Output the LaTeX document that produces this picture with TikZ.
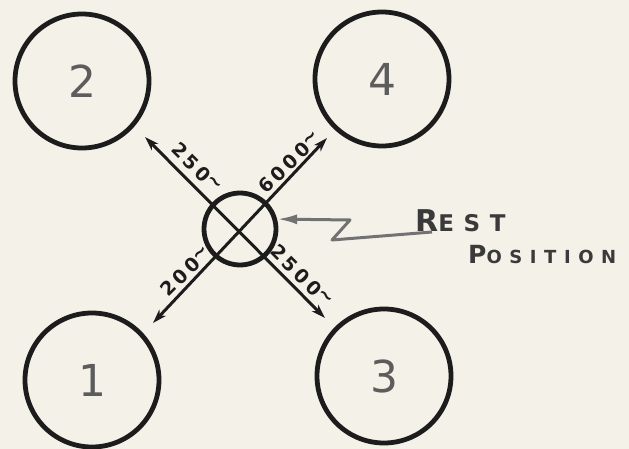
\documentclass[tikz,border=0pt]{standalone}
\usepackage{fontspec}
\setmainfont{DejaVu Sans}
\newfontfamily\notefont[LetterSpace=42]{DejaVu Sans}
\newfontfamily\freqfont[LetterSpace=18]{DejaVu Sans}
\usetikzlibrary{arrows.meta}
\definecolor{paper}{HTML}{F4F1E8}
\definecolor{ink}{HTML}{1C1C1C}
\definecolor{digit}{HTML}{5C5C5C}
\definecolor{pencil}{HTML}{727272}
\definecolor{notecol}{HTML}{3A3A3A}
\begin{document}
\begin{tikzpicture}[x=1pt,y=-1pt,
  stationnode/.style={circle,draw=ink,line width=4.8pt,minimum size=134pt,inner sep=0pt,
    text=digit,font=\fontsize{44}{44}\selectfont},
  hubnode/.style={circle,draw=ink,line width=4.8pt,minimum size=72pt,inner sep=0pt},
  armline/.style={draw=ink,line width=3pt,
    {Stealth[length=14pt,width=9pt,inset=4pt]}-{Stealth[length=14pt,width=9pt,inset=4pt]}},
  freqtext/.style={font=\freqfont\bfseries\fontsize{19}{19}\selectfont,text=ink,inner sep=0pt},
  restline/.style={draw=pencil,line width=3pt,line join=round,
    -{Latex[length=20pt,width=10pt]}},
  noteword/.style={text=notecol,inner sep=0pt,anchor=base west,font=\notefont\bfseries}]
\fill[paper] (0,0) rectangle (629,449);
\useasboundingbox (0,0) rectangle (629,449);

% stations
\node[stationnode] (s2) at (82,81) {2};
\node[stationnode] (s4) at (382,79) {4};
\node[stationnode] (s1) at (92,380) {1};
\node[stationnode] (s3) at (384,376) {3};

% hub (rest position)
\node[hubnode] (hub) at (240,229) {};

% arm tips
\coordinate (tNW) at (145,137);
\coordinate (tSE) at (325,318);
\coordinate (tNE) at (327,138);
\coordinate (tSW) at (153,323);

\draw[armline] (tNW) -- (tSE);
\draw[armline] (tNE) -- (tSW);

% frequency labels
\node[freqtext,rotate=-45] (f250) at (197,168) {250\raisebox{4pt}{\textasciitilde}};
\node[freqtext,rotate=45] (f6000) at (290,162) {6000\raisebox{4pt}{\textasciitilde}};
\node[freqtext,rotate=45] (f200) at (186,271) {200\raisebox{4pt}{\textasciitilde}};
\node[freqtext,rotate=-45] (f2500) at (302,276) {2500\raisebox{4pt}{\textasciitilde}};

% rest position note
\node[noteword] (rest) at (415,232) {{\fontsize{30}{30}\selectfont R}{\fontsize{23}{23}\selectfont EST}};
\node[noteword] (pos) at (468,263) {{\fontsize{25}{25}\selectfont P}{\fontsize{18}{18}\selectfont OSITION}};

\coordinate (r0) at (432,232);
\coordinate (r1) at (332,240);
\coordinate (r2) at (350,220);
\draw[restline] (r0) -- (r1) -- (r2) -- (hub.15);
\end{tikzpicture}
\end{document}
